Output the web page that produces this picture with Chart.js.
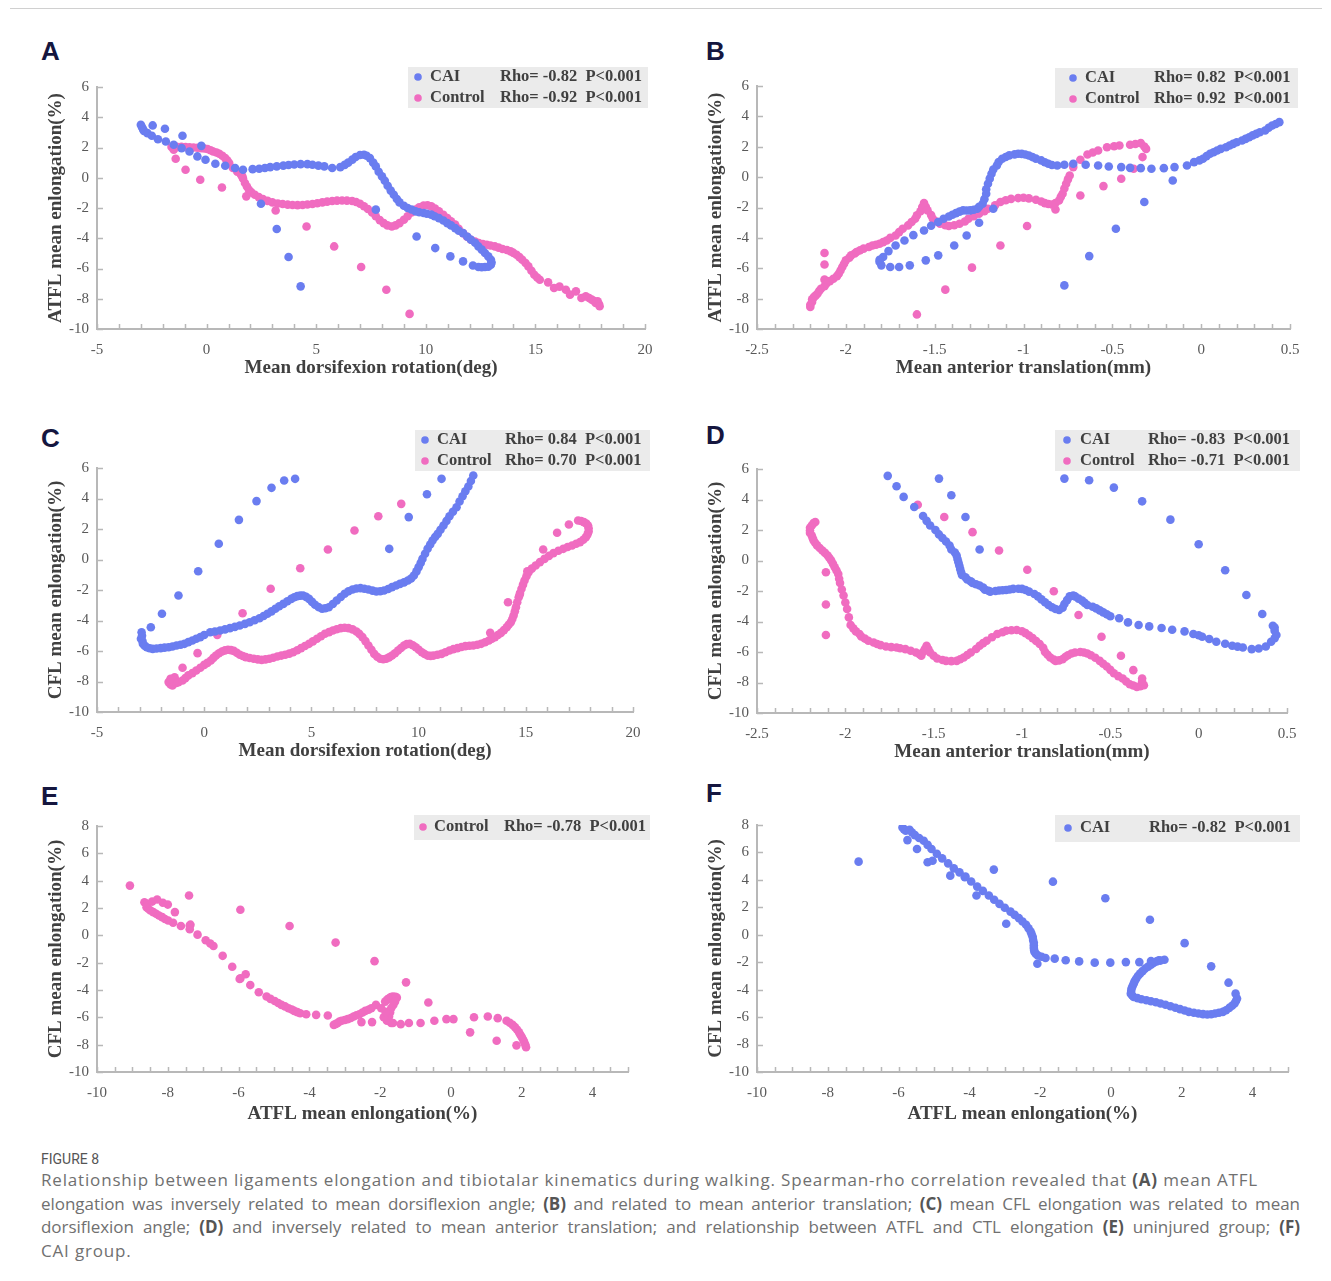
<!DOCTYPE html>
<html>
<head>
<meta charset="utf-8">
<script src="https://cdn.jsdelivr.net/npm/chart.js@4.4.1/dist/chart.umd.min.js"></script>
<style>
  html, body { margin: 0; padding: 0; background: #fff; }
  #page { position: relative; width: 1331px; height: 1281px; overflow: hidden; }
  #page canvas { position: absolute; }
  .topline { position: absolute; left: 10px; top: 8px; width: 1312px; height: 1px; background: #d0d0d0; }
  .tag { position: absolute; font: bold 26px "Liberation Sans", Arial, sans-serif; color: #15163f; }
  .fig { position: absolute; left: 41px; top: 1151px; font: 14px Roboto, sans-serif; color: #555; }
  .cap { position: absolute; left: 41px; width: 1259px; font: 17px "Open Sans", sans-serif; color: #707070; white-space: nowrap; line-height: 23.5px; }
  .cap b { color: #555; }
  .just { text-align: justify; text-align-last: justify; }
</style>
</head>
<body>
<div id="page">
  <div class="topline"></div>
  <div class="tag" style="left:41px;top:36px">A</div>
  <div class="tag" style="left:706px;top:36px">B</div>
  <div class="tag" style="left:41px;top:423px">C</div>
  <div class="tag" style="left:706px;top:420px">D</div>
  <div class="tag" style="left:41px;top:781px">E</div>
  <div class="tag" style="left:706px;top:778px">F</div>
  <div class="fig">FIGURE 8</div>
  <div class="cap" style="top:1168px"><span class="capline" data-w="1217">Relationship between ligaments elongation and tibiotalar kinematics during walking. Spearman-rho correlation revealed that <b>(A)</b> mean ATFL</span></div>
  <div class="cap just" style="top:1191.5px"><span class="capline" data-w="1252">elongation was inversely related to mean dorsiflexion angle; <b>(B)</b> and related to mean anterior translation; <b>(C)</b> mean CFL elongation was related to mean</span></div>
  <div class="cap just" style="top:1215px"><span class="capline" data-w="1252">dorsiflexion angle; <b>(D)</b> and inversely related to mean anterior translation; and relationship between ATFL and CTL elongation <b>(E)</b> uninjured group; <b>(F)</b></span></div>
  <div class="cap" style="top:1238.5px"><span id="capLast">CAI group.</span></div>
</div>
<script>
// ---- data: [x, y] ----
// A: ATFL elongation vs dorsiflexion
const aCai = [[-3.0,3.5],[-2.95,3.35],[-2.9,3.2],[-2.86,3.1],[-2.7,2.95],[-2.5,2.78],[-2.22,2.55],[-1.86,2.4],[-1.5,2.18],[-1.14,1.96],[-0.78,1.74],[-0.42,1.41],[-0.05,1.19],[0.4,0.93],[0.85,0.79],[1.3,0.64],[1.66,0.53],[2.1,0.57],[2.4,0.6],[2.66,0.64],[2.9,0.7],[3.2,0.75],[3.5,0.8],[3.74,0.84],[4.0,0.88],[4.29,0.9],[4.6,0.9],[4.83,0.86],[5.1,0.8],[5.37,0.75],[5.73,0.64],[6.1,0.7],[6.3,0.85],[6.46,1.0],[6.65,1.2],[6.8,1.37],[7.0,1.5],[7.18,1.52],[7.3,1.45],[7.45,1.3],[7.6,1.0],[7.72,0.75],[7.85,0.4],[8.0,0.09],[8.13,-0.2],[8.26,-0.53],[8.4,-0.85],[8.54,-1.12],[8.68,-1.4],[8.8,-1.63],[9.0,-1.85],[9.17,-2.0],[9.35,-2.1],[9.53,-2.22],[9.7,-2.28],[9.9,-2.33],[10.05,-2.38],[10.25,-2.44],[10.4,-2.55],[10.6,-2.67],[10.8,-2.83],[10.98,-3.0],[11.15,-3.15],[11.34,-3.33],[11.5,-3.5],[11.7,-3.66],[11.9,-3.9],[12.06,-4.1],[12.25,-4.3],[12.4,-4.54],[12.55,-4.75],[12.7,-4.98],[12.85,-5.2],[12.97,-5.42],[13.0,-5.6],[12.97,-5.75],[12.85,-5.88],[12.7,-5.9],[12.55,-5.92],[12.4,-5.9],[12.15,-5.8],
  [-2.46,3.46],[-1.9,3.24],[-1.1,2.78],[-0.24,2.11],[2.48,-1.72],[3.2,-3.39],[3.74,-5.24],[4.29,-7.18],[7.72,-2.11],[9.58,-3.88],[10.43,-4.65],[11.12,-5.2],[11.7,-5.53]];
const aCon = [[-1.6,2.03],[-1.5,1.85],[-1.45,2.1],[-1.32,2.03],[-1.15,2.05],[-0.96,2.03],[-0.78,2.02],[-0.6,2.0],[-0.42,1.98],[-0.24,1.96],[-0.1,1.93],[0.04,1.9],[0.18,1.82],[0.3,1.74],[0.45,1.67],[0.58,1.59],[0.72,1.45],[0.85,1.3],[0.95,1.13],[1.03,0.97],[1.2,0.64],[1.4,0.4],[1.57,0.2],[1.66,-0.05],[1.75,-0.35],[1.84,-0.58],[1.93,-0.79],[2.05,-0.97],[2.2,-1.12],[2.38,-1.28],[2.57,-1.41],[2.78,-1.53],[3.0,-1.63],[3.25,-1.7],[3.47,-1.74],[3.7,-1.78],[3.92,-1.8],[4.15,-1.81],[4.38,-1.8],[4.6,-1.77],[4.83,-1.74],[5.05,-1.69],[5.28,-1.63],[5.5,-1.58],[5.73,-1.54],[5.95,-1.51],[6.18,-1.5],[6.4,-1.51],[6.64,-1.54],[6.82,-1.6],[7.0,-1.72],[7.18,-1.88],[7.36,-2.07],[7.55,-2.3],[7.72,-2.55],[7.9,-2.8],[8.08,-3.0],[8.25,-3.15],[8.45,-3.22],[8.62,-3.15],[8.8,-3.0],[9.0,-2.78],[9.17,-2.55],[9.35,-2.3],[9.53,-2.11],[9.7,-1.95],[9.9,-1.83],[10.08,-1.82],[10.25,-1.89],[10.42,-2.03],[10.6,-2.22],[10.8,-2.45],[10.98,-2.67],[11.15,-2.88],[11.34,-3.1],[11.5,-3.38],[11.7,-3.66],[11.88,-3.9],[12.06,-4.1],[12.25,-4.22],[12.42,-4.32],[12.6,-4.38],[12.78,-4.43],[12.95,-4.48],[13.15,-4.54],[13.32,-4.62],[13.5,-4.71],[13.7,-4.78],[13.87,-4.87],[14.0,-4.97],[14.14,-5.09],[14.27,-5.25],[14.4,-5.42],[14.55,-5.64],[14.68,-5.86],[14.82,-6.15],[14.95,-6.41],[15.08,-6.6],[15.2,-6.74],[15.58,-6.92],[15.85,-7.29],[16.1,-7.2],[16.39,-7.4],[16.58,-7.73],[16.85,-7.51],[17.1,-7.95],[17.3,-7.84],[17.45,-7.95],[17.57,-8.06],[17.68,-8.15],[17.75,-8.28],[17.84,-8.17],[17.9,-8.35],[17.93,-8.5],
  [-1.41,1.26],[-0.96,0.53],[-0.29,-0.13],[0.7,-0.64],[1.63,0.09],[1.81,-1.23],[3.15,-2.16],[4.56,-3.22],[5.82,-4.54],[7.05,-5.9],[8.2,-7.4],[9.26,-9.0]];

// B: ATFL elongation vs anterior translation
const bCai = [[0.44,3.62],[0.42,3.5],[0.4,3.4],[0.38,3.25],[0.36,3.07],[0.33,2.95],[0.31,2.85],[0.29,2.75],[0.27,2.63],[0.25,2.52],[0.23,2.41],[0.2,2.3],[0.18,2.19],[0.16,2.08],[0.14,1.97],[0.11,1.86],[0.09,1.75],[0.07,1.64],[0.05,1.54],[0.03,1.38],[0.01,1.21],[-0.01,1.1],[-0.04,0.99],[-0.08,0.77],[-0.15,0.66],[-0.21,0.59],[-0.28,0.55],[-0.34,0.59],[-0.4,0.61],[-0.45,0.66],[-0.52,0.7],[-0.58,0.77],[-0.65,0.81],[-0.72,0.88],[-0.77,0.81],[-0.81,0.77],[-0.84,0.8],[-0.86,0.88],[-0.88,0.98],[-0.9,1.1],[-0.93,1.22],[-0.95,1.32],[-0.97,1.42],[-0.99,1.49],[-1.01,1.53],[-1.03,1.54],[-1.05,1.5],[-1.08,1.43],[-1.1,1.33],[-1.12,1.21],[-1.14,1.0],[-1.15,0.77],[-1.17,0.5],[-1.18,0.22],[-1.19,-0.1],[-1.2,-0.44],[-1.21,-0.8],[-1.21,-1.1],[-1.22,-1.45],[-1.23,-1.75],[-1.25,-1.95],[-1.26,-2.08],[-1.28,-2.15],[-1.3,-2.19],[-1.32,-2.2],[-1.34,-2.19],[-1.36,-2.27],[-1.38,-2.37],[-1.4,-2.48],[-1.42,-2.59],[-1.45,-2.74],[-1.48,-2.96],[-1.52,-3.2],[-1.56,-3.51],[-1.62,-3.82],[-1.67,-4.17],[-1.72,-4.5],[-1.76,-4.87],[-1.79,-5.26],[-1.81,-5.45],[-1.81,-5.59],[-1.8,-5.81],[-1.75,-5.92],[-1.7,-5.92],[-1.64,-5.81],[-1.55,-5.48],[-1.48,-5.15],[-1.39,-4.5],[-1.32,-3.84],[-1.25,-3.0],[-1.17,-2.08],
  [-0.16,-0.22],[-0.32,-1.64],[-0.48,-3.4],[-0.63,-5.2],[-0.77,-7.13]];
const bCon = [[-2.2,-8.55],[-2.2,-8.4],[-2.19,-8.22],[-2.19,-8.05],[-2.18,-7.9],[-2.17,-7.8],[-2.16,-7.68],[-2.15,-7.5],[-2.14,-7.35],[-2.12,-7.18],[-2.11,-7.02],[-2.09,-6.85],[-2.07,-6.69],[-2.05,-6.52],[-2.04,-6.36],[-2.03,-6.15],[-2.02,-5.92],[-2.01,-5.7],[-2.0,-5.48],[-1.98,-5.3],[-1.97,-5.15],[-1.95,-5.03],[-1.94,-4.93],[-1.92,-4.82],[-1.9,-4.71],[-1.87,-4.6],[-1.85,-4.5],[-1.83,-4.45],[-1.81,-4.39],[-1.79,-4.28],[-1.77,-4.17],[-1.75,-4.0],[-1.72,-3.84],[-1.7,-3.62],[-1.68,-3.4],[-1.65,-3.18],[-1.63,-2.96],[-1.61,-2.74],[-1.6,-2.52],[-1.58,-2.25],[-1.57,-1.97],[-1.56,-1.71],[-1.55,-1.95],[-1.54,-2.19],[-1.52,-2.5],[-1.51,-2.74],[-1.49,-2.92],[-1.47,-3.07],[-1.44,-3.17],[-1.42,-3.22],[-1.39,-3.17],[-1.36,-3.07],[-1.33,-2.92],[-1.31,-2.74],[-1.28,-2.58],[-1.25,-2.41],[-1.22,-2.25],[-1.2,-2.08],[-1.16,-1.85],[-1.13,-1.64],[-1.1,-1.52],[-1.07,-1.43],[-1.03,-1.38],[-1.0,-1.36],[-0.97,-1.4],[-0.93,-1.49],[-0.9,-1.6],[-0.88,-1.71],[-0.86,-1.77],[-0.84,-1.8],[-0.82,-1.7],[-0.8,-1.54],[-0.79,-1.3],[-0.78,-1.1],[-0.77,-0.75],[-0.76,-0.44],[-0.75,-0.15],[-0.74,0.11],[-0.72,0.66],[-0.68,1.14],[-0.64,1.49],[-0.61,1.62],[-0.58,1.75],[-0.53,1.97],[-0.49,2.03],[-0.46,2.08],[-0.4,2.13],[-0.37,2.18],[-0.34,2.24],[-0.32,2.02],[-0.31,1.86],
  [-2.12,-5.0],[-2.12,-5.75],[-2.12,-6.75],[-1.6,-9.04],[-1.44,-7.41],[-1.29,-5.96],[-1.13,-4.5],[-0.98,-3.22],[-0.82,-2.13],[-0.68,-1.21],[-0.55,-0.59],[-0.45,-0.11],[-0.38,0.55],[-0.33,1.32]];

// C: CFL elongation vs dorsiflexion
const cCai = [[-2.95,-5.2],[-2.92,-4.77],[-2.9,-5.0],[-2.88,-5.35],[-2.86,-5.53],[-2.78,-5.65],[-2.68,-5.75],[-2.55,-5.82],[-2.4,-5.86],[-2.22,-5.84],[-2.03,-5.81],[-1.85,-5.78],[-1.66,-5.75],[-1.48,-5.7],[-1.29,-5.64],[-1.1,-5.59],[-0.92,-5.53],[-0.74,-5.42],[-0.55,-5.31],[-0.37,-5.2],[-0.18,-5.09],[0.0,-4.95],[0.28,-4.77],[0.5,-4.72],[0.74,-4.66],[0.97,-4.58],[1.2,-4.5],[1.43,-4.42],[1.66,-4.33],[1.9,-4.22],[2.12,-4.11],[2.35,-3.98],[2.58,-3.85],[2.77,-3.7],[2.95,-3.56],[3.14,-3.4],[3.32,-3.23],[3.5,-3.07],[3.69,-2.91],[3.88,-2.74],[4.06,-2.58],[4.2,-2.48],[4.34,-2.4],[4.48,-2.37],[4.61,-2.36],[4.75,-2.45],[4.89,-2.58],[5.03,-2.78],[5.17,-2.97],[5.33,-3.12],[5.5,-3.23],[5.65,-3.2],[5.81,-3.13],[6.0,-2.92],[6.18,-2.69],[6.37,-2.46],[6.55,-2.25],[6.73,-2.08],[6.92,-1.97],[7.1,-1.9],[7.29,-1.88],[7.47,-1.92],[7.66,-1.97],[7.85,-2.04],[8.03,-2.1],[8.21,-2.08],[8.39,-2.03],[8.58,-1.93],[8.76,-1.81],[8.95,-1.7],[9.13,-1.6],[9.32,-1.5],[9.5,-1.38],[9.65,-1.25],[9.78,-1.05],[9.9,-0.78],[10.0,-0.5],[10.1,-0.22],[10.18,0.04],[10.3,0.38],[10.42,0.7],[10.54,0.98],[10.65,1.25],[10.77,1.47],[10.89,1.68],[11.02,1.95],[11.16,2.23],[11.3,2.53],[11.44,2.84],[11.6,3.13],[11.77,3.43],[11.91,3.8],[12.05,4.15],[12.18,4.47],[12.32,4.79],[12.44,5.15],[12.55,5.51],
  [-2.49,-4.44],[-1.97,-3.56],[-1.2,-2.36],[-0.28,-0.77],[0.68,1.03],[1.62,2.6],[2.44,3.83],[3.14,4.7],[3.73,5.18],[4.24,5.29],[8.63,0.7],[9.54,2.78],[10.39,4.28],[11.07,5.29]];
const cCon = [[-1.66,-8.04],[-1.57,-8.2],[-1.48,-8.26],[-1.38,-7.72],[-1.3,-8.1],[-1.2,-8.04],[-1.01,-7.93],[-0.88,-7.78],[-0.74,-7.6],[-0.55,-7.45],[-0.37,-7.28],[-0.18,-7.1],[0.0,-6.91],[0.15,-6.78],[0.31,-6.62],[0.43,-6.45],[0.55,-6.3],[0.69,-6.15],[0.83,-6.03],[0.97,-5.96],[1.11,-5.92],[1.25,-5.94],[1.38,-5.99],[1.52,-6.12],[1.66,-6.25],[1.8,-6.33],[1.94,-6.4],[2.12,-6.46],[2.31,-6.51],[2.5,-6.55],[2.68,-6.58],[2.86,-6.55],[3.04,-6.51],[3.22,-6.44],[3.41,-6.36],[3.6,-6.3],[3.78,-6.25],[3.97,-6.17],[4.15,-6.08],[4.34,-5.95],[4.52,-5.81],[4.7,-5.67],[4.89,-5.53],[5.07,-5.37],[5.26,-5.2],[5.45,-5.03],[5.63,-4.87],[5.82,-4.76],[6.0,-4.66],[6.18,-4.57],[6.37,-4.5],[6.55,-4.48],[6.73,-4.5],[6.92,-4.58],[7.1,-4.72],[7.24,-4.88],[7.38,-5.09],[7.52,-5.35],[7.66,-5.64],[7.8,-5.92],[7.93,-6.19],[8.07,-6.38],[8.21,-6.51],[8.35,-6.54],[8.49,-6.51],[8.62,-6.42],[8.76,-6.3],[8.9,-6.15],[9.04,-5.97],[9.18,-5.8],[9.32,-5.64],[9.45,-5.55],[9.59,-5.53],[9.73,-5.62],[9.87,-5.75],[10.01,-5.92],[10.15,-6.08],[10.28,-6.2],[10.42,-6.3],[10.56,-6.32],[10.7,-6.3],[10.88,-6.25],[11.07,-6.19],[11.25,-6.08],[11.44,-5.97],[11.62,-5.88],[11.81,-5.81],[12.0,-5.74],[12.18,-5.68],[12.37,-5.66],[12.55,-5.64],[12.74,-5.59],[12.92,-5.53],[13.1,-5.43],[13.28,-5.31],[13.42,-5.2],[13.56,-5.09],[13.7,-4.95],[13.84,-4.81],[13.98,-4.63],[14.11,-4.44],[14.2,-4.28],[14.3,-4.11],[14.37,-3.9],[14.43,-3.67],[14.49,-3.4],[14.54,-3.13],[14.6,-2.8],[14.67,-2.47],[14.73,-2.2],[14.8,-1.92],[14.87,-1.65],[14.94,-1.38],[15.03,-1.1],[15.13,-0.83],[15.28,-0.6],[15.46,-0.39],[15.66,-0.17],[15.87,0.04],[16.08,0.24],[16.29,0.42],[16.52,0.57],[16.75,0.7],[16.95,0.82],[17.16,0.92],[17.35,1.03],[17.53,1.14],[17.68,1.3],[17.8,1.46],[17.88,1.65],[17.93,1.84],[17.93,2.05],[17.9,2.23],[17.82,2.36],[17.71,2.45],[17.58,2.52],[17.44,2.56],
  [-1.57,-7.83],[-1.01,-7.1],[-0.31,-6.14],[0.61,-4.94],[1.79,-3.52],[3.1,-1.92],[4.48,-0.57],[5.77,0.66],[7.01,1.9],[8.12,2.84],[9.19,3.65],[13.34,-4.81],[14.17,-2.8],[14.72,-2.3],[15.07,-0.77],[15.81,0.66],[16.46,1.75],[17.01,2.3]];

// D: CFL elongation vs anterior translation
const dCai = [[-1.76,5.55],[-1.71,4.87],[-1.67,4.17],[-1.61,3.51],[-1.56,2.92],[-1.54,2.6],[-1.52,2.3],[-1.49,2.0],[-1.47,1.71],[-1.45,1.48],[-1.43,1.25],[-1.41,0.98],[-1.4,0.72],[-1.38,0.52],[-1.37,0.33],[-1.365,0.1],[-1.36,-0.11],[-1.355,-0.33],[-1.35,-0.55],[-1.345,-0.75],[-1.34,-0.94],[-1.32,-1.1],[-1.31,-1.25],[-1.29,-1.37],[-1.28,-1.47],[-1.26,-1.56],[-1.24,-1.64],[-1.22,-1.78],[-1.21,-1.91],[-1.19,-1.98],[-1.18,-2.04],[-1.15,-2.0],[-1.13,-1.97],[-1.11,-1.95],[-1.09,-1.93],[-1.07,-1.9],[-1.05,-1.86],[-1.02,-1.85],[-1.0,-1.86],[-0.98,-1.93],[-0.96,-2.04],[-0.93,-2.2],[-0.91,-2.35],[-0.89,-2.55],[-0.87,-2.74],[-0.85,-2.92],[-0.83,-3.07],[-0.81,-3.18],[-0.79,-3.25],[-0.77,-3.1],[-0.76,-2.85],[-0.745,-2.6],[-0.73,-2.35],[-0.71,-2.3],[-0.7,-2.35],[-0.68,-2.5],[-0.66,-2.63],[-0.645,-2.78],[-0.63,-2.92],[-0.6,-3.03],[-0.58,-3.14],[-0.56,-3.27],[-0.54,-3.4],[-0.52,-3.53],[-0.5,-3.66],[-0.45,-3.79],[-0.4,-4.06],[-0.34,-4.23],[-0.28,-4.32],[-0.21,-4.43],[-0.15,-4.54],[-0.08,-4.65],[-0.03,-4.82],[0.0,-4.9],[0.02,-5.0],[0.06,-5.15],[0.1,-5.33],[0.15,-5.46],[0.19,-5.59],[0.22,-5.65],[0.25,-5.7],[0.3,-5.81],[0.34,-5.77],[0.38,-5.64],[0.41,-5.33],[0.43,-5.1],[0.44,-4.89],[0.43,-4.6],[0.43,-4.39],
  [-1.47,5.37],[-1.4,4.28],[-1.32,2.85],[-1.24,0.72],[-0.76,5.37],[-0.62,5.26],[-0.48,4.78],[-0.32,3.88],[-0.16,2.68],[0.0,1.07],[0.15,-0.64],[0.27,-2.26],[0.36,-3.51],[0.42,-4.28]];
const dCon = [[-2.17,2.52],[-2.18,2.45],[-2.19,2.3],[-2.2,2.15],[-2.2,1.97],[-2.2,1.8],[-2.19,1.64],[-2.185,1.48],[-2.18,1.32],[-2.17,1.15],[-2.16,0.99],[-2.145,0.82],[-2.13,0.66],[-2.115,0.5],[-2.1,0.33],[-2.09,0.16],[-2.08,0.0],[-2.07,-0.22],[-2.06,-0.44],[-2.05,-0.66],[-2.04,-0.88],[-2.035,-1.2],[-2.03,-1.47],[-2.02,-1.9],[-2.01,-2.3],[-2.0,-2.75],[-1.99,-3.18],[-1.98,-3.73],[-1.97,-4.23],[-1.955,-4.45],[-1.94,-4.65],[-1.92,-4.82],[-1.91,-4.98],[-1.89,-5.12],[-1.87,-5.26],[-1.84,-5.38],[-1.82,-5.48],[-1.8,-5.55],[-1.77,-5.64],[-1.74,-5.68],[-1.71,-5.7],[-1.69,-5.75],[-1.66,-5.81],[-1.63,-5.92],[-1.6,-6.03],[-1.58,-6.15],[-1.57,-6.25],[-1.56,-6.0],[-1.55,-5.81],[-1.54,-5.59],[-1.53,-5.8],[-1.52,-6.03],[-1.5,-6.25],[-1.48,-6.43],[-1.45,-6.52],[-1.43,-6.58],[-1.4,-6.6],[-1.37,-6.58],[-1.35,-6.48],[-1.33,-6.36],[-1.31,-6.2],[-1.29,-6.03],[-1.26,-5.8],[-1.24,-5.59],[-1.22,-5.42],[-1.2,-5.26],[-1.17,-5.03],[-1.14,-4.82],[-1.11,-4.7],[-1.09,-4.61],[-1.06,-4.57],[-1.03,-4.56],[-1.0,-4.64],[-0.98,-4.76],[-0.96,-4.92],[-0.94,-5.09],[-0.92,-5.28],[-0.9,-5.48],[-0.88,-5.72],[-0.87,-5.99],[-0.855,-6.18],[-0.84,-6.36],[-0.82,-6.5],[-0.81,-6.58],[-0.79,-6.55],[-0.77,-6.47],[-0.755,-6.33],[-0.74,-6.21],[-0.72,-6.1],[-0.7,-6.03],[-0.67,-6.0],[-0.65,-6.03],[-0.63,-6.1],[-0.61,-6.21],[-0.585,-6.38],[-0.56,-6.58],[-0.54,-6.77],[-0.52,-6.95],[-0.5,-7.17],[-0.48,-7.39],[-0.455,-7.58],[-0.43,-7.74],[-0.41,-7.93],[-0.39,-8.11],[-0.37,-8.2],[-0.35,-8.29],[-0.33,-8.25],[-0.31,-8.18],[-0.32,-7.95],[-0.32,-7.74],
  [-2.11,-0.77],[-2.11,-2.89],[-2.11,-4.89],[-1.59,3.66],[-1.44,2.85],[-1.28,1.86],[-1.13,0.66],[-0.97,-0.61],[-0.82,-2.02],[-0.68,-3.57],[-0.55,-5.0],[-0.44,-6.25],[-0.37,-7.19]];

// E: CFL vs ATFL, control
const eCon = [[-8.66,2.42],[-8.58,2.3],[-8.6,2.06],[-8.55,1.95],[-8.49,1.82],[-8.44,2.47],[-8.3,2.62],[-8.14,2.38],[-8.0,2.25],[-8.41,1.7],[-8.33,1.58],[-8.25,1.45],[-8.16,1.33],[-8.08,1.2],[-7.99,1.09],[-7.85,0.92],[-7.63,0.68],[-7.38,0.44],[-7.16,0.05],[-6.93,-0.36],[-6.8,-0.6],[-6.71,-0.78],[-6.45,-1.5],[-6.18,-2.3],[-5.95,-3.15],[-5.67,-3.64],[-5.43,-4.17],[-5.21,-4.48],[-5.1,-4.65],[-4.98,-4.8],[-4.88,-4.95],[-4.79,-5.09],[-4.69,-5.2],[-4.59,-5.33],[-4.5,-5.43],[-4.43,-5.53],[-4.34,-5.62],[-4.26,-5.7],[-4.09,-5.77],[-3.81,-5.82],[-3.48,-5.87],[-3.31,-6.55],[-3.25,-6.48],[-3.2,-6.42],[-3.15,-6.3],[-3.09,-6.25],[-3.0,-6.2],[-2.92,-6.13],[-2.83,-6.05],[-2.75,-5.94],[-2.67,-5.85],[-2.59,-5.77],[-2.5,-5.65],[-2.42,-5.53],[-2.33,-5.45],[-2.25,-5.33],[-2.12,-5.09],[-1.97,-5.33],[-1.86,-4.85],[-1.8,-4.7],[-1.75,-4.61],[-1.7,-4.52],[-1.64,-4.48],[-1.57,-4.5],[-1.53,-4.56],[-1.58,-4.85],[-1.63,-5.1],[-1.69,-5.33],[-1.72,-5.65],[-1.75,-5.94],[-1.78,-6.1],[-1.81,-6.25],[-1.69,-6.42],[-1.64,-6.42],[-1.42,-6.5],[-1.19,-6.42],[-0.86,-6.42],[-0.47,-6.25],[-0.13,-6.13],[0.07,-6.13],[0.65,-5.99],[1.04,-5.94],[1.32,-6.06],[1.57,-6.25],[1.66,-6.4],[1.74,-6.55],[1.81,-6.72],[1.87,-6.91],[1.92,-7.1],[1.96,-7.27],[2.0,-7.45],[2.04,-7.64],[2.07,-7.82],[2.1,-8.0],[2.12,-8.19],
  [-9.07,3.64],[-7.8,1.7],[-7.4,2.91],[-7.36,0.78],[-5.95,1.87],[-4.56,0.68],[-3.26,-0.53],[-2.16,-1.89],[-1.27,-3.44],[-0.64,-4.92],[0.54,-7.1],[1.29,-7.71],[1.85,-8.05],[-2.53,-6.35],[-2.23,-6.35],[-1.9,-6.0],[-1.85,-5.6],[-5.97,-3.2],[-5.8,-2.85],[-7.38,0.72]];

// F: CFL vs ATFL, CAI
const fCai = [[-5.89,7.82],[-5.85,7.7],[-5.8,7.58],[-5.69,7.65],[-5.62,7.45],[-5.54,7.26],[-5.42,7.05],[-5.29,6.85],[-5.18,6.55],[-5.07,6.25],[-4.92,5.9],[-4.77,5.57],[-4.6,5.2],[-4.44,4.84],[-4.28,4.55],[-4.11,4.24],[-3.95,3.88],[-3.78,3.51],[-3.62,3.2],[-3.45,2.86],[-3.3,2.55],[-3.15,2.25],[-3.0,1.97],[-2.84,1.69],[-2.72,1.45],[-2.6,1.21],[-2.5,0.97],[-2.4,0.73],[-2.33,0.48],[-2.27,0.24],[-2.24,0.03],[-2.21,-0.17],[-2.2,-0.38],[-2.18,-0.58],[-2.18,-0.78],[-2.18,-0.97],[-2.17,-1.12],[-2.16,-1.26],[-2.12,-1.4],[-2.07,-1.5],[-1.96,-1.6],[-1.85,-1.69],[-1.59,-1.74],[-1.28,-1.86],[-0.9,-1.94],[-0.46,-2.03],[-0.02,-2.03],[0.42,-1.99],[0.8,-1.99],[1.13,-1.91],[1.35,-1.86],[1.51,-1.82],[1.4,-1.88],[1.29,-1.94],[1.2,-2.05],[1.13,-2.18],[1.05,-2.32],[0.96,-2.47],[0.89,-2.65],[0.82,-2.83],[0.76,-3.0],[0.71,-3.2],[0.67,-3.38],[0.64,-3.56],[0.61,-3.74],[0.58,-3.92],[0.57,-4.1],[0.56,-4.29],[0.6,-4.43],[0.64,-4.53],[0.75,-4.62],[0.86,-4.7],[1.0,-4.77],[1.13,-4.84],[1.27,-4.92],[1.4,-5.01],[1.54,-5.1],[1.68,-5.21],[1.82,-5.32],[1.95,-5.42],[2.08,-5.52],[2.2,-5.62],[2.34,-5.68],[2.47,-5.74],[2.6,-5.78],[2.72,-5.81],[2.83,-5.79],[2.94,-5.74],[3.05,-5.68],[3.16,-5.62],[3.25,-5.5],[3.34,-5.33],[3.42,-5.17],[3.49,-5.01],[3.53,-4.83],[3.56,-4.65],[3.52,-4.29],
  [-7.13,5.33],[-5.75,6.9],[-5.48,6.25],[-5.18,5.28],[-5.04,5.4],[-4.54,4.31],[-4.13,4.19],[-3.8,2.86],[-3.31,4.75],[-2.96,0.8],[-2.08,-2.11],[-1.64,3.87],[-0.16,2.66],[1.1,1.09],[2.08,-0.61],[2.83,-2.3],[3.32,-3.49]];

const rhoA = ['Rho= -0.82  P<0.001', 'Rho= -0.92  P<0.001'];
const rhoB = ['Rho= 0.82  P<0.001', 'Rho= 0.92  P<0.001'];
const rhoC = ['Rho= 0.84  P<0.001', 'Rho= 0.70  P<0.001'];
const rhoD = ['Rho= -0.83  P<0.001', 'Rho= -0.71  P<0.001'];
const rhoE = ['Rho= -0.78  P<0.001'];
const rhoF = ['Rho= -0.82  P<0.001'];

const BLUE = '#6a7df0';
const PINK = '#f06cc0';
const AXIS = '#b8b8b8';
const SERIF = '"Liberation Serif", "Times New Roman", serif';

// caption lines: widen letters so each line reaches the width it has in the original
(function fitCaption() {
  let first = null;
  document.querySelectorAll('.capline').forEach(s => {
    const n = s.textContent.length;
    const w = s.getBoundingClientRect().width;
    const ls = (+s.dataset.w - w) / n;
    s.style.letterSpacing = ls + 'px';
    if (first === null) first = ls;
  });
  document.getElementById('capLast').style.letterSpacing = first + 'px';
})();

// gray legend box with dot, name and rho text
const legendBox = {
  id: 'legendBox',
  afterDraw(chart, args, o) {
    const ctx = chart.ctx;
    const ox = chart.canvas.offsetLeft, oy = chart.canvas.offsetTop;
    ctx.save();
    ctx.fillStyle = '#ebebeb';
    ctx.fillRect(o.box[0] - ox, o.box[1] - oy, o.box[2] - o.box[0], o.box[3] - o.box[1]);
    ctx.font = 'bold 16.5px ' + SERIF;
    ctx.textBaseline = 'middle';
    chart.data.datasets.forEach((ds, i) => {
      const y = o.rowY[i] - oy;
      ctx.fillStyle = ds.backgroundColor;
      ctx.beginPath();
      ctx.arc(o.dotX - ox, y, 3.8, 0, Math.PI * 2);
      ctx.fill();
      ctx.fillStyle = '#404040';
      ctx.fillText(ds.label, o.nameX - ox, y);
      ctx.fillText(o.rho[i], o.rhoX - ox, y);
    });
    ctx.restore();
  }
};

// short tick marks pointing into the plot
const innerTicks = {
  id: 'innerTicks',
  afterDraw(chart) {
    const ctx = chart.ctx, a = chart.chartArea;
    ctx.save();
    ctx.strokeStyle = AXIS;
    ctx.lineWidth = 1.5;
    ctx.beginPath();
    chart.scales.x.ticks.forEach(t => {
      const px = Math.round(chart.scales.x.getPixelForValue(t.value)) + 0.5;
      ctx.moveTo(px, a.bottom); ctx.lineTo(px, a.bottom - 5);
    });
    chart.scales.y.ticks.forEach(t => {
      const py = Math.round(chart.scales.y.getPixelForValue(t.value)) + 0.5;
      ctx.moveTo(a.left, py); ctx.lineTo(a.left + 6, py);
    });
    ctx.stroke();
    ctx.restore();
  }
};

function fmt(v) { return String(+v.toFixed(1)); }

function panel(p) {
  const W = 55, T = 50, R = 30, H = p.xH;
  const left = p.area[0] - W, top = p.area[1] - T;
  const cw = p.area[2] - p.area[0] + W + R;
  const ch = p.area[3] - p.area[1] + T + H;
  const cv = document.createElement('canvas');
  cv.width = cw; cv.height = ch;
  cv.style.left = left + 'px'; cv.style.top = top + 'px';
  cv.style.width = cw + 'px'; cv.style.height = ch + 'px';
  document.getElementById('page').appendChild(cv);

  new Chart(cv.getContext('2d'), {
    type: 'scatter',
    data: {
      datasets: p.series.map(s => ({
        label: s.label,
        data: s.data.map(d => ({ x: d[0], y: d[1] })),
        backgroundColor: s.color,
        borderColor: s.color,
        borderWidth: 0,
        pointRadius: 4.3,
        pointHoverRadius: 4.3
      }))
    },
    options: {
      responsive: false,
      animation: false,
      layout: { padding: { top: T, right: R, left: 0, bottom: 0 } },
      plugins: {
        legend: { display: false },
        tooltip: { enabled: false },
        legendBox: p.legend
      },
      scales: {
        x: {
          type: 'linear', min: p.x[0], max: p.x[1],
          afterFit: s => { s.height = H; },
          grid: { display: true, drawOnChartArea: false, drawTicks: false },
          border: { display: true, color: AXIS, width: 2 },
          ticks: {
            stepSize: p.x[2], autoSkip: false, maxRotation: 0, padding: 12,
            color: '#595959', font: { family: SERIF, size: 15 },
            callback: v => {
              const k = Math.round(v / p.x[3] * 1000) / 1000;
              return Number.isInteger(k) ? fmt(v) : '';
            }
          },
          title: {
            display: true, text: p.xTitle, color: '#404040', padding: { top: 0, bottom: 2 },
            font: { family: SERIF, size: 19, weight: 'bold' }
          }
        },
        y: {
          type: 'linear', min: p.y[0], max: p.y[1],
          afterFit: s => { s.width = W; },
          grid: { display: true, drawOnChartArea: false, drawTicks: false },
          border: { display: true, color: AXIS, width: 2 },
          ticks: { stepSize: 2, padding: 8, color: '#595959', font: { family: SERIF, size: 15 } },
          title: {
            display: true, text: p.yTitle, color: '#404040', padding: { top: 3, bottom: 0 },
            font: { family: SERIF, size: 19, weight: 'bold' }
          }
        }
      }
    },
    plugins: [legendBox, innerTicks]
  });
}

const rotX = 'Mean dorsifexion rotation(deg)';
const trX = 'Mean anterior translation(mm)';
const atflY = 'ATFL mean enlongation(%)';
const cflY = 'CFL mean enlongation(%)';
const atflX = 'ATFL mean enlongation(%)';

panel({ area: [97, 87, 645, 329], xH: 52, x: [-5, 20, 1, 5], y: [-10, 6], xTitle: rotX, yTitle: atflY,
  series: [{ label: 'CAI', data: aCai, color: BLUE }, { label: 'Control', data: aCon, color: PINK }],
  legend: { box: [408, 67, 648, 108], rowY: [77, 98], dotX: 418, nameX: 430, rhoX: 500, rho: rhoA } });

panel({ area: [757, 86, 1290, 329], xH: 52, x: [-2.5, 0.5, 0.1, 0.5], y: [-10, 6], xTitle: trX, yTitle: atflY,
  series: [{ label: 'CAI', data: bCai, color: BLUE }, { label: 'Control', data: bCon, color: PINK }],
  legend: { box: [1055, 68, 1298, 108], rowY: [78, 99], dotX: 1073, nameX: 1085, rhoX: 1154, rho: rhoB } });

panel({ area: [97, 468, 633, 712], xH: 52, x: [-5, 20, 1, 5], y: [-10, 6], xTitle: rotX, yTitle: cflY,
  series: [{ label: 'CAI', data: cCai, color: BLUE }, { label: 'Control', data: cCon, color: PINK }],
  legend: { box: [415, 430, 650, 471], rowY: [440, 461], dotX: 425, nameX: 437, rhoX: 505, rho: rhoC } });

panel({ area: [757, 469, 1287, 713], xH: 52, x: [-2.5, 0.5, 0.1, 0.5], y: [-10, 6], xTitle: trX, yTitle: cflY,
  series: [{ label: 'CAI', data: dCai, color: BLUE }, { label: 'Control', data: dCon, color: PINK }],
  legend: { box: [1055, 430, 1300, 471], rowY: [440, 461], dotX: 1067, nameX: 1080, rhoX: 1148, rho: rhoD } });

panel({ area: [97, 826, 628, 1072], xH: 55, x: [-10, 5, 0.5, 2], y: [-10, 8], xTitle: atflX, yTitle: cflY,
  series: [{ label: 'Control', data: eCon, color: PINK }],
  legend: { box: [414, 815, 650, 840], rowY: [827], dotX: 423, nameX: 434, rhoX: 504, rho: rhoE } });

panel({ area: [757, 825, 1288, 1072], xH: 55, x: [-10, 5, 0.5, 2], y: [-10, 8], xTitle: atflX, yTitle: cflY,
  series: [{ label: 'CAI', data: fCai, color: BLUE }],
  legend: { box: [1055, 815, 1300, 842], rowY: [828], dotX: 1068, nameX: 1080, rhoX: 1149, rho: rhoF } });
</script>
</body>
</html>
